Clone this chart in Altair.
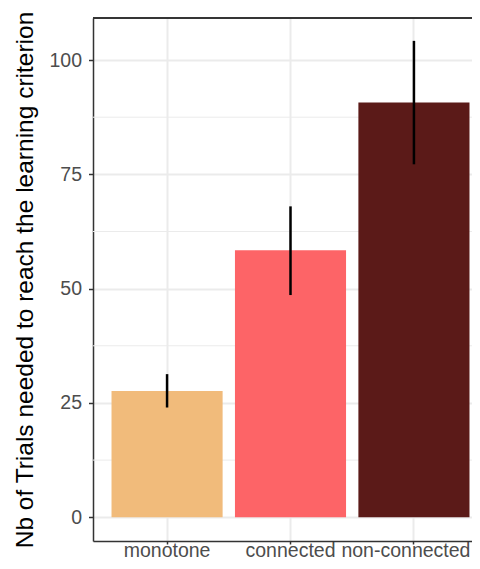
import altair as alt
import pandas as pd

# Data
conditions = ["monotone", "connected", "non-connected"]
means = [27.6, 58.4, 90.7]
err_low = [24.0, 48.6, 77.2]
err_high = [31.3, 68.0, 104.2]
colors = ["#F1BB7B", "#FD6467", "#5B1A18"]
major_ticks = [0, 25, 50, 75, 100]
minor_ticks = [12.5, 37.5, 62.5, 87.5]
y_domain = [-5.2, 109.2]

df = pd.DataFrame({"condition": conditions, "mean": means,
                   "lo": err_low, "hi": err_high})
minor_df = pd.DataFrame({"v": minor_ticks})

FONT = "Liberation Sans"
W, H = 379, 523
RANGE_W = 395

x_scale = alt.Scale(domain=conditions, range=[0, RANGE_W],
                    paddingInner=0.1, paddingOuter=0.15)
y_scale = alt.Scale(domain=y_domain, nice=False, zero=False)

x_axis = alt.Axis(title=None, labelFont=FONT, labelFontSize=19.5,
                  labelColor="#4D4D4D", labelPadding=-3, tickColor="#333333",
                  tickSize=3, tickWidth=1.5, domainColor="#333333",
                  domainWidth=1.5, grid=True, gridColor="#EBEBEB",
                  gridWidth=2, labelAngle=0,
                  labelOffset={"condition": {"test": "datum.value == 'non-connected'",
                                             "value": -8}, "value": 0})
y_axis = alt.Axis(title="Nb of Trials needed to reach the learning criterion",
                  titleFont=FONT, titleFontSize=24.5, titleFontWeight="normal",
                  titleColor="black", titleX=-61, titleBaseline="alphabetic",
                  values=major_ticks, labelFont=FONT, labelFontSize=19.5,
                  labelColor="#4D4D4D", labelPadding=7, tickColor="#333333",
                  tickSize=4.5, tickWidth=1.5, domainColor="#333333",
                  domainWidth=1.5, grid=True, gridColor="#EBEBEB", gridWidth=2)

minor = alt.Chart(minor_df).mark_rule(color="#EBEBEB", strokeWidth=1).encode(
    y=alt.Y("v:Q", scale=y_scale, axis=y_axis),
    x=alt.value(0), x2=alt.value(RANGE_W))

bars = alt.Chart(df).mark_bar().encode(
    x=alt.X("condition:N", scale=x_scale, axis=x_axis, sort=conditions),
    y=alt.Y("mean:Q", scale=y_scale, axis=y_axis),
    color=alt.Color("condition:N", scale=alt.Scale(domain=conditions, range=colors),
                    legend=None))

errs = alt.Chart(df).mark_rule(color="black", strokeWidth=2.5).encode(
    x=alt.X("condition:N", scale=x_scale, axis=x_axis, sort=conditions),
    y=alt.Y("lo:Q", scale=y_scale, axis=y_axis),
    y2="hi:Q")

top_border = alt.Chart(df).mark_rule(color="#333333", strokeWidth=1.5).encode(
    y=alt.value(0), x=alt.value(0), x2=alt.value(RANGE_W))

chart = alt.layer(minor, bars, errs, top_border).properties(
    width=W, height=H,
    autosize=alt.AutoSizeParams(type="none"),
    padding={"left": 85, "top": 10, "right": 0, "bottom": 20},
).configure_view(stroke=None)

chart.save("out.html", embed_options={"renderer": "svg", "actions": False})
